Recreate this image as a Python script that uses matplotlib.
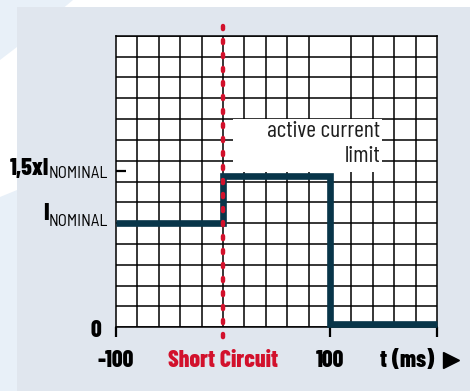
import matplotlib
matplotlib.use("Agg")
import matplotlib.pyplot as plt
import matplotlib.patches as patches
from matplotlib.transforms import blended_transform_factory

# --- dati (tempo in ms, corrente in unita' di I nominale) ---
t_ms = [-100, 0, 0, 100, 100, 200]
current = [1.0, 1.0, 1.45, 1.45, 0.03, 0.03]
short_circuit_t = 0
x_ticks = [-100, 100, 200]
x_tick_labels = ["-100", "100", ""]
limit_level = 1.5
nominal_level = 1.0

W, H = 470, 391
BLUE = "#083549"
RED = "#d2112c"
PANEL = "#e0e6ee"
LIGHT = "#e8f0f8"
FONT = ['Barlow Condensed', 'DejaVu Sans']
SUB_FONT = ['Barlow Semi Condensed', 'DejaVu Sans']
BOLD = 800

plt.rcParams['font.family'] = FONT

fig = plt.figure(figsize=(W / 100, H / 100), dpi=100)
fig.patch.set_facecolor("white")


def fpx(x, y):
    # pixel (origine in alto a sinistra) -> frazione di figura
    return (x / W, 1 - y / H)


# --- sfondo decorativo ---
for poly in ([(0, 0), (73, 0), (17, 47), (0, 60)],
             [(0, 197), (17, 190), (17, 391), (0, 391)]):
    fig.patches.append(patches.Polygon([fpx(*p) for p in poly], closed=True,
                                       transform=fig.transFigure, facecolor=LIGHT,
                                       edgecolor="none", zorder=-10))
fig.patches.append(patches.Rectangle(fpx(17, 391), (W - 17) / W, (391 - 7) / H,
                                     transform=fig.transFigure, facecolor=PANEL,
                                     edgecolor="none", zorder=-9))

ax = fig.add_axes([116 / W, 1 - 327.3 / H, (437 - 116) / W, (327.3 - 35.7) / H])
ax.set_facecolor("white")
ax.set_xlim(-100, 200)
ax.set_ylim(0, 2.8)

# griglia 15 x 14
ax.set_xticks(range(-100, 201, 20), minor=True)
ax.set_yticks([i * 0.2 for i in range(15)], minor=True)
ax.grid(which="minor", color="black", linewidth=1.1)
ax.tick_params(which="minor", length=0)
for s in ax.spines.values():
    s.set_color("black")
    s.set_linewidth(1.1)

ax.set_xticks(x_ticks)
ax.set_xticklabels([""] * len(x_ticks))
ax.tick_params(axis="x", which="major", direction="out", length=7, width=1.6)
ax.set_yticks([limit_level])
ax.set_yticklabels([""])
ax.tick_params(axis="y", which="major", direction="in", length=7, width=1.6)

tx = blended_transform_factory(ax.transData, ax.transAxes)
ty = blended_transform_factory(ax.transAxes, ax.transData)

# curva di corrente
ax.plot(t_ms, current, color=BLUE, linewidth=4.8, solid_joinstyle="miter",
        solid_capstyle="butt", zorder=5, clip_on=False)

# riquadro testo
ax.add_patch(patches.Rectangle((9, 1.49), 140, 0.51, facecolor="white",
                               edgecolor="none", zorder=4))
ax.text(147, 1.83, "active current", ha="right", va="baseline",
        fontsize=17, color="#1e1e1e", zorder=6)
ax.text(147, 1.585, "limit", ha="right", va="baseline",
        fontsize=17, color="#1e1e1e", zorder=6)

# linea corto circuito
ax.plot([short_circuit_t, short_circuit_t], [1.033, -0.057], transform=tx,
        color=RED, linewidth=3.2, dashes=(0.7, 2.45), dash_capstyle="round",
        clip_on=False, zorder=7)

# etichette asse x
for t, lab in zip(x_ticks, x_tick_labels):
    ax.annotate(lab, xy=(t, 0), xycoords=tx, xytext=(0, -28.4),
                textcoords="offset points", ha="center", va="baseline",
                fontsize=17, fontweight=BOLD)
ax.annotate("Short Circuit", xy=(short_circuit_t, 0), xycoords=tx,
            xytext=(0, -28.4), textcoords="offset points", ha="center",
            va="baseline", fontsize=17, fontweight=BOLD, color=RED)
ax.annotate("t (ms)", xy=(380 / W, 0), xycoords=("figure fraction", "axes fraction"),
            xytext=(0, -28.4), textcoords="offset points", ha="left",
            va="baseline", fontsize=17, fontweight=BOLD)
ax.plot([(451 - 116) / (437 - 116)], [-(359.5 - 327.3) / (327.3 - 35.7)],
        transform=ax.transAxes, marker=">", markersize=12, color="black",
        clip_on=False)

# etichette asse y
n1 = ax.annotate("NOMINAL", xy=(0, limit_level), xycoords=ty, xytext=(-5.5, -5),
                 textcoords="offset points", ha="right", va="baseline",
                 fontsize=12, family=SUB_FONT)
ax.annotate("1,5xI", xy=(0, 0), xycoords=n1, xytext=(0, 1),
            textcoords="offset points", ha="right", va="bottom",
            fontsize=17, fontweight=BOLD)
n2 = ax.annotate("NOMINAL", xy=(0, nominal_level), xycoords=ty, xytext=(-5.5, -2.4),
                 textcoords="offset points", ha="right", va="baseline",
                 fontsize=12, family=SUB_FONT)
ax.annotate("I", xy=(0, 0), xycoords=n2, xytext=(0, 3.5),
            textcoords="offset points", ha="right", va="bottom",
            fontsize=17, fontweight=BOLD)
ax.annotate("0", xy=(0, 0), xycoords=ty, xytext=(-10.3, -6.8),
            textcoords="offset points", ha="right", va="baseline",
            fontsize=17, fontweight=BOLD)

fig.savefig("out.png", dpi=100)
